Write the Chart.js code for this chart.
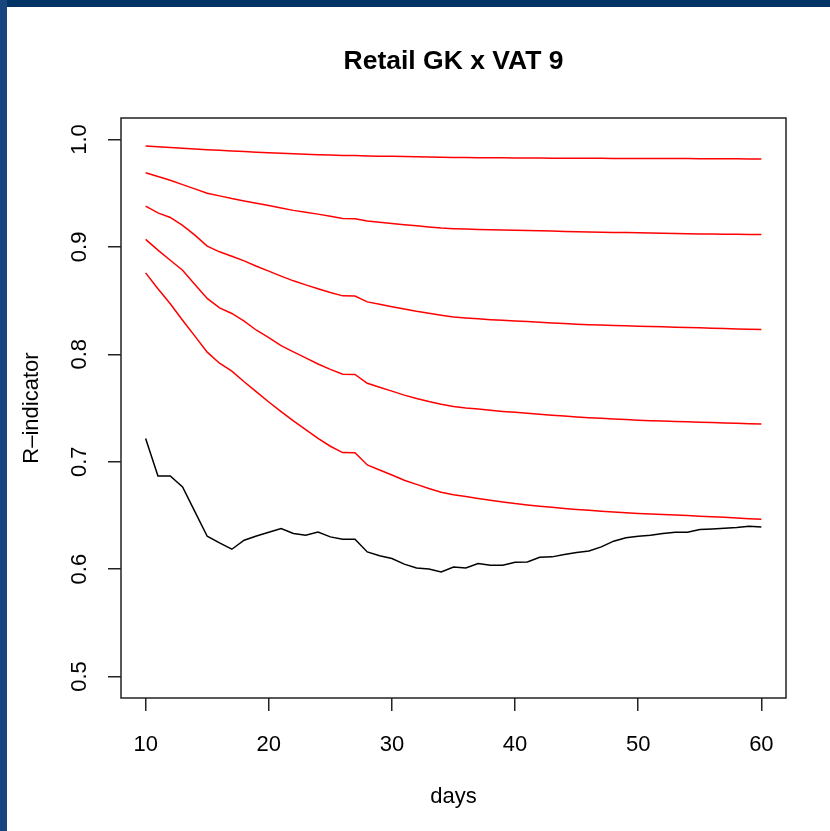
<!DOCTYPE html>
<html>
<head>
<meta charset="utf-8">
<script src="https://cdn.jsdelivr.net/npm/chart.js@4.4.1/dist/chart.umd.min.js"></script>
<style>
  html, body { margin: 0; padding: 0; background: #ffffff; }
  #c { display: block; }
</style>
</head>
<body>
<canvas id="c" width="830" height="831"></canvas>
<script>
// ---- data ----
const chartTitle = "Retail GK x VAT 9";
const xTitle = "days";
const yTitle = "R–indicator";
const days = [10,11,12,13,14,15,16,17,18,19,20,21,22,23,24,25,26,27,28,29,30,31,32,33,34,35,36,37,38,39,40,41,42,43,44,45,46,47,48,49,50,51,52,53,54,55,56,57,58,59,60];
const xTicks = [10, 20, 30, 40, 50, 60];
const yTicks = [0.5, 0.6, 0.7, 0.8, 0.9, 1.0];

const red1 = [0.9940,0.9933,0.9926,0.9919,0.9912,0.9905,0.9899,0.9893,0.9887,0.9881,0.9876,0.9871,0.9866,0.9862,0.9858,0.9855,0.9852,0.9850,0.9847,0.9845,0.9843,0.9841,0.9839,0.9837,0.9835,0.9833,0.9832,0.9831,0.9830,0.9829,0.9828,0.9827,0.9827,0.9826,0.9826,0.9826,0.9825,0.9825,0.9824,0.9824,0.9823,0.9823,0.9822,0.9822,0.9822,0.9821,0.9821,0.9820,0.9820,0.9819,0.9819];
const red2 = [0.9690,0.9655,0.9620,0.9580,0.9540,0.9500,0.9475,0.9450,0.9428,0.9406,0.9385,0.9362,0.9340,0.9322,0.9305,0.9285,0.9264,0.9262,0.9240,0.9229,0.9218,0.9207,0.9196,0.9186,0.9176,0.9170,0.9166,0.9163,0.9160,0.9158,0.9155,0.9152,0.9150,0.9147,0.9144,0.9141,0.9139,0.9137,0.9135,0.9133,0.9131,0.9129,0.9127,0.9125,0.9123,0.9121,0.9120,0.9118,0.9117,0.9116,0.9115];
const red3 = [0.9380,0.9317,0.9274,0.9200,0.9110,0.9007,0.8954,0.8913,0.8870,0.8820,0.8774,0.8728,0.8684,0.8646,0.8610,0.8575,0.8544,0.8542,0.8488,0.8465,0.8442,0.8421,0.8400,0.8382,0.8364,0.8348,0.8338,0.8330,0.8322,0.8316,0.8311,0.8305,0.8298,0.8292,0.8286,0.8280,0.8276,0.8272,0.8268,0.8265,0.8262,0.8259,0.8256,0.8252,0.8249,0.8246,0.8243,0.8240,0.8236,0.8233,0.8230];
const red4 = [0.9070,0.8970,0.8876,0.8783,0.8650,0.8520,0.8432,0.8380,0.8308,0.8224,0.8156,0.8080,0.8022,0.7967,0.7910,0.7860,0.7815,0.7813,0.7730,0.7694,0.7657,0.7620,0.7588,0.7560,0.7535,0.7514,0.7500,0.7490,0.7478,0.7468,0.7460,0.7451,0.7442,0.7433,0.7425,0.7417,0.7410,0.7404,0.7398,0.7392,0.7386,0.7382,0.7378,0.7375,0.7371,0.7368,0.7364,0.7360,0.7357,0.7353,0.7350];
const red5 = [0.8758,0.8610,0.8470,0.8317,0.8169,0.8020,0.7917,0.7843,0.7744,0.7650,0.7556,0.7466,0.7380,0.7298,0.7217,0.7144,0.7085,0.7083,0.6970,0.6923,0.6876,0.6828,0.6789,0.6750,0.6716,0.6693,0.6675,0.6658,0.6642,0.6625,0.6610,0.6598,0.6586,0.6575,0.6565,0.6555,0.6547,0.6539,0.6532,0.6525,0.6518,0.6513,0.6508,0.6503,0.6498,0.6493,0.6488,0.6482,0.6476,0.6470,0.6465];
const black = [0.7216,0.6868,0.6868,0.6765,0.6536,0.6306,0.6245,0.6185,0.6269,0.6309,0.6343,0.6378,0.6331,0.6316,0.6346,0.6300,0.6278,0.6278,0.6160,0.6124,0.6099,0.6046,0.6011,0.6000,0.5974,0.6020,0.6011,0.6052,0.6036,0.6036,0.6064,0.6067,0.6110,0.6114,0.6135,0.6154,0.6169,0.6207,0.6260,0.6291,0.6306,0.6316,0.6331,0.6344,0.6344,0.6369,0.6374,0.6380,0.6387,0.6400,0.6393];

// ---- build datasets ----
const toPts = arr => days.map((d, i) => ({ x: d, y: arr[i] }));
const mkSet = (arr, color) => ({
  data: toPts(arr), borderColor: color, borderWidth: 1.5,
  pointRadius: 0, fill: false, tension: 0
});

const FONT = '"Liberation Sans", Arial, Helvetica, sans-serif';

const rStyle = {
  id: 'rStyle',
  beforeDraw(chart) {
    const c = chart.ctx;
    c.save();
    c.fillStyle = '#ffffff';
    c.fillRect(0, 0, chart.width, chart.height);
    c.fillStyle = '#033466';
    c.fillRect(0, 0, chart.width, 7);
    c.fillStyle = '#17467f';
    c.fillRect(0, 0, 7, chart.height);
    c.restore();
  },
  afterDraw(chart) {
    const { ctx, chartArea: a, scales } = chart;
    const xs = scales.x, ys = scales.y;
    ctx.save();
    ctx.strokeStyle = '#222';
    ctx.lineWidth = 1.5;
    ctx.strokeRect(a.left, a.top, a.right - a.left, a.bottom - a.top);

    ctx.fillStyle = '#000';
    ctx.textAlign = 'center';
    ctx.textBaseline = 'middle';
    ctx.font = 'bold 26.5px ' + FONT;
    ctx.fillText(chartTitle, (a.left + a.right) / 2, 62);

    ctx.font = '22px ' + FONT;
    xTicks.forEach(v => ctx.fillText(String(v), xs.getPixelForValue(v), 745));
    ctx.fillText(xTitle, (a.left + a.right) / 2, 797);

    yTicks.forEach(v => {
      ctx.save();
      ctx.translate(80, ys.getPixelForValue(v));
      ctx.rotate(-Math.PI / 2);
      ctx.fillText(v.toFixed(1), 0, 0);
      ctx.restore();
    });
    ctx.save();
    ctx.translate(32, (a.top + a.bottom) / 2);
    ctx.rotate(-Math.PI / 2);
    ctx.fillText(yTitle, 0, 0);
    ctx.restore();
    ctx.restore();
  }
};

new Chart(document.getElementById('c'), {
  type: 'line',
  data: {
    datasets: [
      mkSet(red1, '#ff0000'),
      mkSet(red2, '#ff0000'),
      mkSet(red3, '#ff0000'),
      mkSet(red4, '#ff0000'),
      mkSet(red5, '#ff0000'),
      mkSet(black, '#000000')
    ]
  },
  options: {
    responsive: false,
    animation: false,
    devicePixelRatio: 1,
    layout: { padding: { top: 118, left: 0, right: 44, bottom: 0 } },
    plugins: { legend: { display: false }, title: { display: false }, tooltip: { enabled: false } },
    scales: {
      x: {
        type: 'linear', min: 8, max: 62,
        afterBuildTicks: s => { s.ticks = xTicks.map(v => ({ value: v })); },
        afterFit: s => { s.height = 133; },
        ticks: { display: false },
        border: { display: false },
        grid: { display: true, drawOnChartArea: false, drawTicks: true, tickLength: 13, color: '#222', lineWidth: 1.5 }
      },
      y: {
        type: 'linear', min: 0.48, max: 1.02,
        afterBuildTicks: s => { s.ticks = yTicks.map(v => ({ value: v })); },
        afterFit: s => { s.width = 121; },
        ticks: { display: false },
        border: { display: false },
        grid: { display: true, drawOnChartArea: false, drawTicks: true, tickLength: 13, color: '#222', lineWidth: 1.5 }
      }
    }
  },
  plugins: [rStyle]
});
</script>
</body>
</html>
